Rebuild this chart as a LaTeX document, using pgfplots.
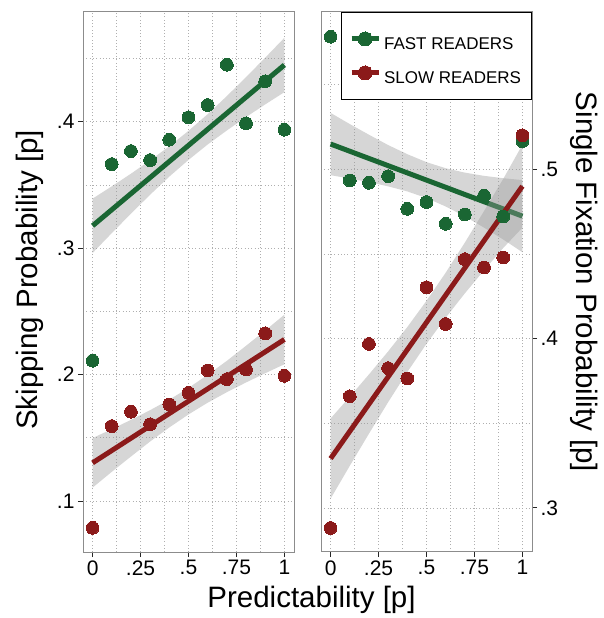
\documentclass[border=0pt]{standalone}
\usepackage{fontspec}
\setmainfont{Liberation Sans}
\usepackage{pgfplots}
\pgfplotsset{compat=1.18}
\definecolor{fastg}{RGB}{26,102,51}
\definecolor{slowr}{RGB}{139,26,26}
\definecolor{bandc}{RGB}{153,153,153}
\definecolor{gridc}{RGB}{175,175,175}
\definecolor{framec}{RGB}{140,140,140}
\pgfplotsset{
  panel/.style={
    scale only axis, width=211pt, height=540pt, anchor=south west,
    xmin=-0.05, xmax=1.05,
    xtick={0,0.25,0.5,0.75,1}, xticklabels={0,.25,.5,.75,1},
    minor xtick={0.125,0.375,0.625,0.875},
    grid=both,
    major grid style={gridc, line width=0.9pt, dash pattern=on 0.9pt off 2.4pt},
    minor grid style={gridc, line width=0.9pt, dash pattern=on 0.9pt off 2.4pt},
    axis line style={framec, line width=1pt},
    tick align=outside, major tick length=5pt, minor tick length=0pt,
    tick style={black!85, line width=1pt},
    xtick pos=left,
    /pgf/number format/assume math mode=true,
    tick label style={font=\fontsize{21}{21}\selectfont},
    label style={font=\fontsize{29.5}{29.5}\selectfont},
    clip=false,
  },
  band/.style={fill=bandc, fill opacity=0.4, draw=none, forget plot},
  fitg/.style={fastg, line width=5pt, forget plot},
  fitr/.style={slowr, line width=5pt, forget plot},
  ptg/.style={only marks, mark=*, mark size=6.4pt, mark options={fill=fastg, draw=fastg, line width=0pt}, forget plot},
  ptr/.style={only marks, mark=*, mark size=6.4pt, mark options={fill=slowr, draw=slowr, line width=0pt}, forget plot},
}
\begin{document}
\begin{tikzpicture}
\useasboundingbox (0,0) rectangle (604pt,618pt);
% ---------------- left panel: skipping probability
\begin{axis}[panel, at={(83pt,66pt)},
  ymin=0.0597, ymax=0.4868,
  ytick={0.1,0.2,0.3,0.4}, yticklabels={.1,.2,.3,.4},
  minor ytick={0.15,0.25,0.35,0.45},
  ytick pos=left,
  ylabel={Skipping Probability [p]},
  ylabel style={at={(axis description cs:-0.218,0.504)}, anchor=base, rotate=0},
  xlabel={Predictability [p]},
  xlabel style={at={(axis description cs:1.083,-0.1037)}, anchor=base},
]
\addplot[band] coordinates {
 (0,0.3392) (0.1,0.3489) (0.2,0.3589) (0.3,0.3695) (0.4,0.3806) (0.5,0.3928)
 (0.6,0.4060) (0.7,0.4203) (0.8,0.4353) (0.9,0.4507) (1,0.4664)
 (1,0.4234) (0.9,0.4137) (0.8,0.4037) (0.7,0.3931) (0.6,0.3820) (0.5,0.3698)
 (0.4,0.3566) (0.3,0.3423) (0.2,0.3273) (0.1,0.3119) (0,0.2962)} -- cycle;
\addplot[fitg] coordinates {(0,0.3177) (1,0.4449)};
\addplot[band] coordinates {
 (0,0.1498) (0.1,0.1569) (0.2,0.1642) (0.3,0.1719) (0.4,0.1802) (0.5,0.1895)
 (0.6,0.1998) (0.7,0.2109) (0.8,0.2228) (0.9,0.2349) (1,0.2474)
 (1,0.2082) (0.9,0.2011) (0.8,0.1938) (0.7,0.1861) (0.6,0.1778) (0.5,0.1685)
 (0.4,0.1582) (0.3,0.1471) (0.2,0.1352) (0.1,0.1231) (0,0.1106)} -- cycle;
\addplot[fitr] coordinates {(0,0.1302) (1,0.2278)};
\addplot[ptg] coordinates {
 (0,0.211) (0.1,0.3665) (0.2,0.3768) (0.3,0.3697) (0.4,0.3858) (0.5,0.4035)
 (0.6,0.4132) (0.7,0.4451) (0.8,0.3987) (0.9,0.432) (1,0.3937)};
\addplot[ptr] coordinates {
 (0,0.0788) (0.1,0.1593) (0.2,0.1706) (0.3,0.1608) (0.4,0.1764) (0.5,0.1856)
 (0.6,0.2033) (0.7,0.1964) (0.8,0.2041) (0.9,0.2326) (1,0.1991)};
\end{axis}
% ---------------- right panel: single fixation probability
\begin{axis}[panel, at={(321pt,66pt)},
  ymin=0.274, ymax=0.593,
  ytick={0.3,0.4,0.5}, yticklabels={.3,.4,.5},
  minor ytick={0.35,0.45,0.55},
  ytick pos=right, yticklabel pos=right,
  ylabel={Single Fixation Probability [p]},
  ylabel style={at={(axis description cs:1.213,0.5)}, anchor=base, rotate=180},
  legend style={at={(1,1)}, anchor=north east, draw=black, line width=0.9pt, fill=white,
    font=\fontsize{17}{17}\selectfont, inner xsep=7.5pt, inner ysep=12.5pt, row sep=6pt,
    nodes={inner sep=3pt, text height=22pt, text depth=0pt}},
  legend cell align=left,
  legend image code/.code={%
    \draw[#1, mark=none] (0pt,0pt) -- (27pt,0pt);
    \draw[#1, only marks, line width=0pt] plot coordinates {(13.5pt,0pt)};},
]
\addlegendimage{fastg, line width=5pt, mark=*, mark size=7pt, mark options={fill=fastg, draw=fastg}}
\addlegendentry{FAST READERS}
\addlegendimage{slowr, line width=5pt, mark=*, mark size=7pt, mark options={fill=slowr, draw=slowr}}
\addlegendentry{SLOW READERS}
\addplot[band] coordinates {
 (0,0.5334) (0.1,0.5268) (0.2,0.5205) (0.3,0.5144) (0.4,0.5090) (0.5,0.5043)
 (0.6,0.5007) (0.7,0.4981) (0.8,0.4962) (0.9,0.4948) (1,0.4937)
 (1,0.4511) (0.9,0.4586) (0.8,0.4656) (0.7,0.4723) (0.6,0.4781) (0.5,0.4831)
 (0.4,0.4870) (0.3,0.4900) (0.2,0.4925) (0.1,0.4946) (0,0.4966)} -- cycle;
\addplot[fitg] coordinates {(0,0.5150) (1,0.4724)};
\addplot[band] coordinates {
 (0,0.3529) (0.1,0.3657) (0.2,0.3789) (0.3,0.3925) (0.4,0.4069) (0.5,0.4224)
 (0.6,0.4390) (0.7,0.4568) (0.8,0.4754) (0.9,0.4944) (1,0.5146)
 (1,0.4656) (0.9,0.4536) (0.8,0.4404) (0.7,0.4268) (0.6,0.4124) (0.5,0.3970)
 (0.4,0.3803) (0.3,0.3625) (0.2,0.3439) (0.1,0.3249) (0,0.3055)} -- cycle;
\addplot[fitr] coordinates {(0,0.3292) (1,0.4901)};
\addplot[ptg] coordinates {
 (0,0.5784) (0.1,0.4935) (0.2,0.4921) (0.3,0.496) (0.4,0.4767) (0.5,0.4807)
 (0.6,0.4679) (0.7,0.4734) (0.8,0.4844) (0.9,0.4722) (1,0.5167)};
\addplot[ptr] coordinates {
 (0,0.2882) (0.1,0.366) (0.2,0.3969) (0.3,0.3826) (0.4,0.3765) (0.5,0.4304)
 (0.6,0.4087) (0.7,0.447) (0.8,0.4421) (0.9,0.448) (1,0.5201)};
\end{axis}
\end{tikzpicture}
\end{document}
